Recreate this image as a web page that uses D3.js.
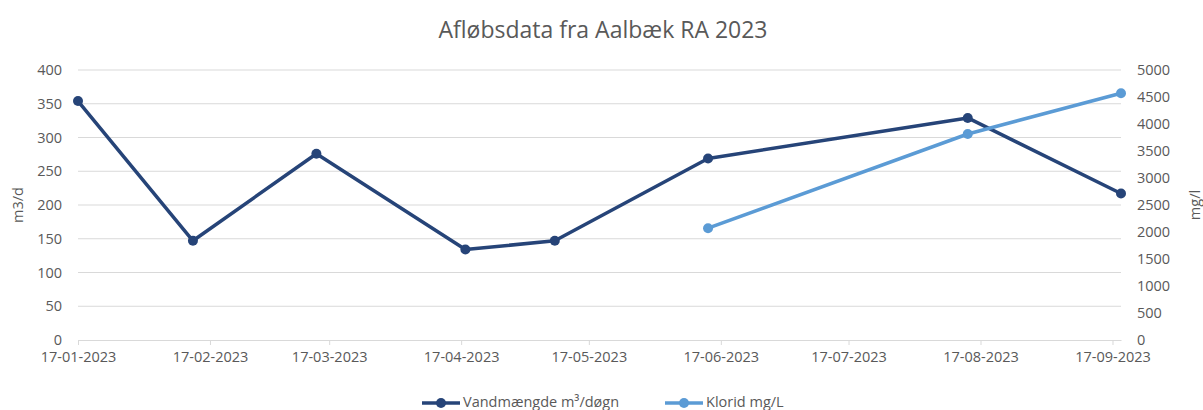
<!DOCTYPE html>
<html>
<head>
<meta charset="utf-8">
<script src="https://cdn.jsdelivr.net/npm/d3@7"></script>
<style>
  body { margin: 0; background: #fff; }
  #chart { width: 1203px; height: 410px; overflow: hidden; }
  text { font-family: "Open Sans", "Noto Sans", sans-serif; fill: #595959; }
</style>
</head>
<body>
<div id="chart"></div>
<script>
// Data
const waterDates = ["2023-01-17", "2023-02-13", "2023-03-14", "2023-04-18", "2023-05-09", "2023-06-14", "2023-08-14", "2023-09-19"];
const waterValues = [354, 147, 276, 134, 147, 269, 329, 217];
const chlorideDates = ["2023-06-14", "2023-08-14", "2023-09-19"];
const chlorideValues = [2070, 3815, 4570];
const leftTicks = [0, 50, 100, 150, 200, 250, 300, 350, 400];
const rightTicks = [0, 500, 1000, 1500, 2000, 2500, 3000, 3500, 4000, 4500, 5000];
const xTickDates = ["2023-01-17", "2023-02-17", "2023-03-17", "2023-04-17", "2023-05-17", "2023-06-17", "2023-07-17", "2023-08-17", "2023-09-17"];

const width = 1203;
const height = 410;
const margin = { top: 70, right: 82, bottom: 70, left: 78 };
const darkBlue = "#264478";
const lightBlue = "#5b9bd5";
const tickFont = "14.5px";

const parse = d3.timeParse("%Y-%m-%d");
const fmt = d3.timeFormat("%d-%m-%Y");

const svg = d3.select("#chart")
    .append("svg")
    .attr("width", width)
    .attr("height", height);

// Scales
const x = d3.scaleTime()
    .domain([parse(waterDates[0]), parse(waterDates[waterDates.length - 1])])
    .range([margin.left, width - margin.right]);

const yLeft = d3.scaleLinear()
    .domain([0, 400])
    .range([height - margin.bottom, margin.top]);

const yRight = d3.scaleLinear()
    .domain([0, 5000])
    .range([height - margin.bottom, margin.top]);

// Gridlines
svg.append("g")
    .selectAll("line")
    .data(leftTicks.slice(1))
    .join("line")
    .attr("x1", margin.left)
    .attr("x2", width - margin.right)
    .attr("y1", d => yLeft(d))
    .attr("y2", d => yLeft(d))
    .attr("stroke", "#d9d9d9")
    .attr("stroke-width", 1);

// X axis
const xAxis = svg.append("g")
    .attr("transform", `translate(0,${height - margin.bottom})`)
    .call(d3.axisBottom(x)
        .tickValues(xTickDates.map(parse))
        .tickFormat(fmt)
        .tickSizeInner(5)
        .tickSizeOuter(0)
        .tickPadding(7));
xAxis.select(".domain").attr("stroke", "#d9d9d9");
xAxis.selectAll(".tick line").attr("stroke", "#d9d9d9");
xAxis.selectAll("text").style("font-size", tickFont).attr("fill", "#595959");

// Left axis
const leftAxis = svg.append("g")
    .attr("transform", `translate(${margin.left},0)`)
    .call(d3.axisLeft(yLeft).tickValues(leftTicks).tickSize(0).tickPadding(16));
leftAxis.select(".domain").remove();
leftAxis.selectAll("text").style("font-size", tickFont).attr("fill", "#595959");

// Right axis
const rightAxis = svg.append("g")
    .attr("transform", `translate(${width - margin.right},0)`)
    .call(d3.axisRight(yRight).tickValues(rightTicks).tickFormat(d3.format("d")).tickSize(0).tickPadding(16));
rightAxis.select(".domain").remove();
rightAxis.selectAll("text").style("font-size", tickFont).attr("fill", "#595959");

// Axis titles
svg.append("text")
    .attr("transform", `translate(19,${(margin.top + height - margin.bottom) / 2}) rotate(-90)`)
    .attr("text-anchor", "middle")
    .attr("dominant-baseline", "middle")
    .style("font-size", tickFont)
    .text("m3/d");

svg.append("text")
    .attr("transform", `translate(1196,${(margin.top + height - margin.bottom) / 2}) rotate(-90)`)
    .attr("text-anchor", "middle")
    .attr("dominant-baseline", "middle")
    .style("font-size", tickFont)
    .text("mg/l");

// Title
svg.append("text")
    .attr("x", 603)
    .attr("y", 38)
    .attr("text-anchor", "middle")
    .style("font-size", "23px")
    .text("Afløbsdata fra Aalbæk RA 2023");

// Series
const water = waterDates.map((d, i) => ({ date: parse(d), value: waterValues[i] }));
const chloride = chlorideDates.map((d, i) => ({ date: parse(d), value: chlorideValues[i] }));

function drawSeries(data, yScale, color) {
    const line = d3.line()
        .x(d => x(d.date))
        .y(d => yScale(d.value));
    svg.append("path")
        .datum(data)
        .attr("d", line)
        .attr("fill", "none")
        .attr("stroke", color)
        .attr("stroke-width", 3.5)
        .attr("stroke-linejoin", "round");
    svg.append("g")
        .selectAll("circle")
        .data(data)
        .join("circle")
        .attr("cx", d => x(d.date))
        .attr("cy", d => yScale(d.value))
        .attr("r", 5)
        .attr("fill", color);
}

drawSeries(water, yLeft, darkBlue);
drawSeries(chloride, yRight, lightBlue);

// Legend
const legendItems = [
    { label: "Vandmængde m³/døgn", color: darkBlue, x: 422 },
    { label: "Klorid mg/L", color: lightBlue, x: 665 }
];
const legend = svg.append("g").attr("transform", "translate(0,403)");
legendItems.forEach(item => {
    legend.append("line")
        .attr("x1", item.x)
        .attr("x2", item.x + 38)
        .attr("stroke", item.color)
        .attr("stroke-width", 3.5);
    legend.append("circle")
        .attr("cx", item.x + 19)
        .attr("r", 5)
        .attr("fill", item.color);
    legend.append("text")
        .attr("x", item.x + 41)
        .attr("dominant-baseline", "middle")
        .style("font-size", tickFont)
        .text(item.label);
});
</script>
</body>
</html>
